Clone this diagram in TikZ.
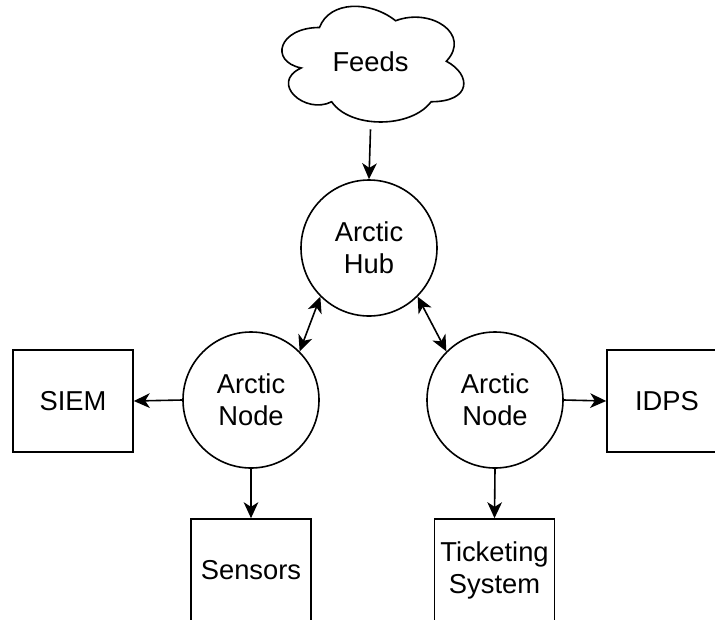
\documentclass[tikz,border=0pt]{standalone}
\usepackage{fontspec}
\setmainfont{Liberation Sans}
\usetikzlibrary{arrows.meta}
\tikzset{
  tip/.tip={Stealth[length=12pt, width=11pt, inset=3.5pt]},
  base/.style={draw=black, line width=1.2pt, fill=white, align=center,
    font=\fontsize{20.5}{24}\selectfont, inner sep=0pt},
  hubcircle/.style={base, circle, minimum size=102pt},
  sysbox/.style={base, rectangle, minimum width=90pt, minimum height=76.5pt},
  link/.style={line width=1.2pt, -tip},
  duplex/.style={line width=1.2pt, tip-tip}
}
\begin{document}
\begin{tikzpicture}[x=0.75pt, y=-0.75pt]
\useasboundingbox (0,0) rectangle (715,619);
\clip (0,0) rectangle (715,619);
\fill[white] (0,0) rectangle (715,619);

% cloud: the node carries the label, its outline is drawn inside the node's box
\node[minimum width=152.25pt, minimum height=101.25pt, inner sep=0pt,
  font=\fontsize{20.5}{24}\selectfont] (feeds) at (370.5,61.5) {Feeds};
\begin{scope}[shift={(feeds.north west)}, x=152.25pt, y=-101.25pt]
  \draw[line width=1.2pt]
    (0.25,0.25) .. controls (0.05,0.25) and (0,0.5) .. (0.16,0.55)
    .. controls (0,0.66) and (0.18,0.9) .. (0.31,0.8)
    .. controls (0.4,1) and (0.7,1) .. (0.8,0.8)
    .. controls (1,0.8) and (1,0.6) .. (0.875,0.5)
    .. controls (1,0.3) and (0.8,0.1) .. (0.625,0.2)
    .. controls (0.5,0.05) and (0.3,0.05) .. (0.25,0.25) -- cycle;
\end{scope}

% hub and nodes
\node[hubcircle] (hub)   at (369,248) {Arctic\\Hub};
\node[hubcircle] (lnode) at (251,400) {Arctic\\Node};
\node[hubcircle] (rnode) at (495,400) {Arctic\\Node};

% attached systems
\node[sysbox] (siem)      at (73,401)    {SIEM};
\node[sysbox] (idps)      at (667,401)   {IDPS};
\node[sysbox] (sensors)   at (251,570)   {Sensors};
\node[sysbox] (ticketing) at (494.5,570) {Ticketing\\System};

% connectors
\draw[link] (feeds.south) -- (hub.north);
\draw[duplex] (hub.-135) -- (lnode.45);
\draw[duplex] (hub.-45) -- (rnode.135);
\draw[link] (lnode.west) -- (siem.east);
\draw[link] (lnode.south) -- (sensors.north);
\draw[link] (rnode.east) -- (idps.west);
\draw[link] (rnode.south) -- (ticketing.north);
\end{tikzpicture}
\end{document}
